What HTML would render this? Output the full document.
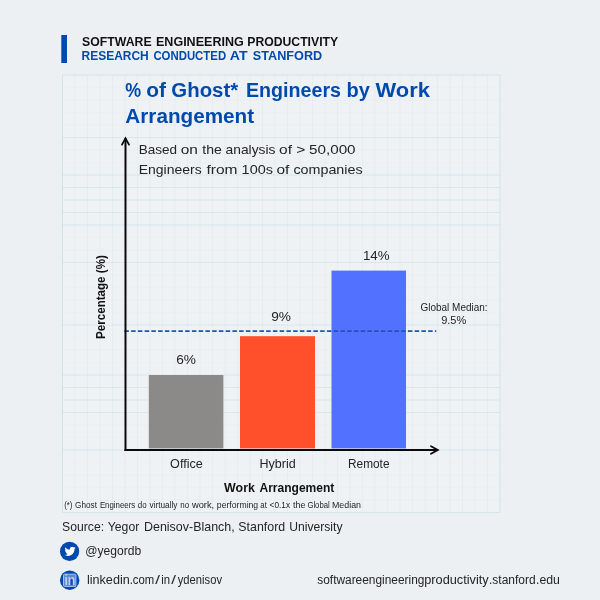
<!DOCTYPE html>
<html lang="en">
<head>
<meta charset="utf-8">
<title>% of Ghost Engineers by Work Arrangement</title>
<style>
html,body{margin:0;padding:0;background:#ecf0f3;}
body{width:600px;height:600px;overflow:hidden;}
svg{display:block;font-family:"Liberation Sans",sans-serif;}
</style>
</head>
<body>
<svg width="600" height="600" viewBox="0 0 600 600">
<rect width="600" height="600" fill="#ecf0f3"/>
<rect x="62.5" y="75" width="437.5" height="437.5" fill="#eef2f5"/>
<g stroke="#c6dce4" stroke-width="1">
<line x1="62.5" y1="75" x2="62.5" y2="512.5" stroke-opacity="0.65"/>
<line x1="75.0" y1="75" x2="75.0" y2="512.5" stroke-opacity="0.19"/>
<line x1="87.5" y1="75" x2="87.5" y2="512.5" stroke-opacity="0.26"/>
<line x1="100.0" y1="75" x2="100.0" y2="512.5" stroke-opacity="0.19"/>
<line x1="112.5" y1="75" x2="112.5" y2="512.5" stroke-opacity="0.26"/>
<line x1="125.0" y1="75" x2="125.0" y2="512.5" stroke-opacity="0.26"/>
<line x1="137.5" y1="75" x2="137.5" y2="512.5" stroke-opacity="0.19"/>
<line x1="150.0" y1="75" x2="150.0" y2="512.5" stroke-opacity="0.19"/>
<line x1="162.5" y1="75" x2="162.5" y2="512.5" stroke-opacity="0.19"/>
<line x1="175.0" y1="75" x2="175.0" y2="512.5" stroke-opacity="0.19"/>
<line x1="187.5" y1="75" x2="187.5" y2="512.5" stroke-opacity="0.19"/>
<line x1="200.0" y1="75" x2="200.0" y2="512.5" stroke-opacity="0.19"/>
<line x1="212.5" y1="75" x2="212.5" y2="512.5" stroke-opacity="0.19"/>
<line x1="225.0" y1="75" x2="225.0" y2="512.5" stroke-opacity="0.19"/>
<line x1="237.5" y1="75" x2="237.5" y2="512.5" stroke-opacity="0.19"/>
<line x1="250.0" y1="75" x2="250.0" y2="512.5" stroke-opacity="0.19"/>
<line x1="262.5" y1="75" x2="262.5" y2="512.5" stroke-opacity="0.19"/>
<line x1="275.0" y1="75" x2="275.0" y2="512.5" stroke-opacity="0.19"/>
<line x1="287.5" y1="75" x2="287.5" y2="512.5" stroke-opacity="0.19"/>
<line x1="300.0" y1="75" x2="300.0" y2="512.5" stroke-opacity="0.19"/>
<line x1="312.5" y1="75" x2="312.5" y2="512.5" stroke-opacity="0.19"/>
<line x1="325.0" y1="75" x2="325.0" y2="512.5" stroke-opacity="0.19"/>
<line x1="337.5" y1="75" x2="337.5" y2="512.5" stroke-opacity="0.19"/>
<line x1="350.0" y1="75" x2="350.0" y2="512.5" stroke-opacity="0.19"/>
<line x1="362.5" y1="75" x2="362.5" y2="512.5" stroke-opacity="0.19"/>
<line x1="375.0" y1="75" x2="375.0" y2="512.5" stroke-opacity="0.19"/>
<line x1="387.5" y1="75" x2="387.5" y2="512.5" stroke-opacity="0.19"/>
<line x1="400.0" y1="75" x2="400.0" y2="512.5" stroke-opacity="0.19"/>
<line x1="412.5" y1="75" x2="412.5" y2="512.5" stroke-opacity="0.19"/>
<line x1="425.0" y1="75" x2="425.0" y2="512.5" stroke-opacity="0.19"/>
<line x1="437.5" y1="75" x2="437.5" y2="512.5" stroke-opacity="0.26"/>
<line x1="450.0" y1="75" x2="450.0" y2="512.5" stroke-opacity="0.19"/>
<line x1="462.5" y1="75" x2="462.5" y2="512.5" stroke-opacity="0.19"/>
<line x1="475.0" y1="75" x2="475.0" y2="512.5" stroke-opacity="0.19"/>
<line x1="487.5" y1="75" x2="487.5" y2="512.5" stroke-opacity="0.19"/>
<line x1="500.0" y1="75" x2="500.0" y2="512.5" stroke-opacity="0.65"/>
<line x1="62.5" y1="75.0" x2="500" y2="75.0" stroke-opacity="0.6"/>
<line x1="62.5" y1="87.5" x2="500" y2="87.5" stroke-opacity="0.08"/>
<line x1="62.5" y1="100.0" x2="500" y2="100.0" stroke-opacity="0.08"/>
<line x1="62.5" y1="112.5" x2="500" y2="112.5" stroke-opacity="0.08"/>
<line x1="62.5" y1="125.0" x2="500" y2="125.0" stroke-opacity="0.08"/>
<line x1="62.5" y1="137.5" x2="500" y2="137.5" stroke-opacity="0.5"/>
<line x1="62.5" y1="150.0" x2="500" y2="150.0" stroke-opacity="0.08"/>
<line x1="62.5" y1="162.5" x2="500" y2="162.5" stroke-opacity="0.08"/>
<line x1="62.5" y1="175.0" x2="500" y2="175.0" stroke-opacity="0.5"/>
<line x1="62.5" y1="187.5" x2="500" y2="187.5" stroke-opacity="0.5"/>
<line x1="62.5" y1="200.0" x2="500" y2="200.0" stroke-opacity="0.5"/>
<line x1="62.5" y1="212.5" x2="500" y2="212.5" stroke-opacity="0.5"/>
<line x1="62.5" y1="225.0" x2="500" y2="225.0" stroke-opacity="0.5"/>
<line x1="62.5" y1="237.5" x2="500" y2="237.5" stroke-opacity="0.08"/>
<line x1="62.5" y1="250.0" x2="500" y2="250.0" stroke-opacity="0.08"/>
<line x1="62.5" y1="262.5" x2="500" y2="262.5" stroke-opacity="0.5"/>
<line x1="62.5" y1="275.0" x2="500" y2="275.0" stroke-opacity="0.08"/>
<line x1="62.5" y1="287.5" x2="500" y2="287.5" stroke-opacity="0.08"/>
<line x1="62.5" y1="300.0" x2="500" y2="300.0" stroke-opacity="0.08"/>
<line x1="62.5" y1="312.5" x2="500" y2="312.5" stroke-opacity="0.08"/>
<line x1="62.5" y1="325.0" x2="500" y2="325.0" stroke-opacity="0.5"/>
<line x1="62.5" y1="337.5" x2="500" y2="337.5" stroke-opacity="0.08"/>
<line x1="62.5" y1="350.0" x2="500" y2="350.0" stroke-opacity="0.08"/>
<line x1="62.5" y1="362.5" x2="500" y2="362.5" stroke-opacity="0.08"/>
<line x1="62.5" y1="375.0" x2="500" y2="375.0" stroke-opacity="0.5"/>
<line x1="62.5" y1="387.5" x2="500" y2="387.5" stroke-opacity="0.5"/>
<line x1="62.5" y1="400.0" x2="500" y2="400.0" stroke-opacity="0.5"/>
<line x1="62.5" y1="412.5" x2="500" y2="412.5" stroke-opacity="0.5"/>
<line x1="62.5" y1="425.0" x2="500" y2="425.0" stroke-opacity="0.08"/>
<line x1="62.5" y1="437.5" x2="500" y2="437.5" stroke-opacity="0.08"/>
<line x1="62.5" y1="450.0" x2="500" y2="450.0" stroke-opacity="0.5"/>
<line x1="62.5" y1="462.5" x2="500" y2="462.5" stroke-opacity="0.08"/>
<line x1="62.5" y1="475.0" x2="500" y2="475.0" stroke-opacity="0.08"/>
<line x1="62.5" y1="487.5" x2="500" y2="487.5" stroke-opacity="0.08"/>
<line x1="62.5" y1="500.0" x2="500" y2="500.0" stroke-opacity="0.08"/>
<line x1="62.5" y1="512.5" x2="500" y2="512.5" stroke-opacity="0.6"/>
</g>
<rect x="61.3" y="35" width="5.7" height="28" fill="#004aad"/>
<!-- bars -->
<rect x="148.8" y="375" width="74.6" height="73.4" fill="#8c8a89"/>
<rect x="240" y="336.2" width="75" height="112.2" fill="#ff4f2b"/>
<rect x="331.5" y="270.6" width="74.5" height="177.8" fill="#5271ff"/>
<!-- median line -->
<line x1="124.4" y1="331.2" x2="436.3" y2="331.2" stroke="#1c55b8" stroke-width="1.8" stroke-dasharray="4.5 2.25"/>
<!-- axes -->
<g stroke="#0a0a0a" stroke-width="2" fill="none">
<line x1="125.5" y1="138" x2="125.5" y2="451"/>
<line x1="124.5" y1="450" x2="438" y2="450"/>
<polyline points="122,144.6 125.5,138.3 129,144.6" stroke-width="1.8" stroke-linecap="round" stroke-linejoin="miter"/>
<polyline points="431,446.3 437.8,450 431,453.7" stroke-width="1.8" stroke-linecap="round" stroke-linejoin="miter"/>
</g>
<text y="45.5" font-size="12.4" font-weight="bold" fill="#111"><tspan x="82.06" textLength="69.52" lengthAdjust="spacingAndGlyphs">SOFTWARE</tspan> <tspan x="155.97" textLength="87.77" lengthAdjust="spacingAndGlyphs">ENGINEERING</tspan> <tspan x="247.24" textLength="90.89" lengthAdjust="spacingAndGlyphs">PRODUCTIVITY</tspan></text>
<text y="59.6" font-size="12.4" font-weight="bold" fill="#004aad"><tspan x="81.50" textLength="67.29" lengthAdjust="spacingAndGlyphs">RESEARCH</tspan> <tspan x="153.39" textLength="72.75" lengthAdjust="spacingAndGlyphs">CONDUCTED</tspan> <tspan x="229.80" textLength="17.79" lengthAdjust="spacingAndGlyphs">AT</tspan> <tspan x="252.80" textLength="69.39" lengthAdjust="spacingAndGlyphs">STANFORD</tspan></text>
<text y="97.1" font-size="20.3" font-weight="bold" fill="#004aad"><tspan x="125.29" textLength="15.88" lengthAdjust="spacingAndGlyphs">%</tspan> <tspan x="146.35" textLength="19.73" lengthAdjust="spacingAndGlyphs">of</tspan> <tspan x="171.36" textLength="66.81" lengthAdjust="spacingAndGlyphs">Ghost*</tspan> <tspan x="245.97" textLength="95.02" lengthAdjust="spacingAndGlyphs">Engineers</tspan> <tspan x="346.55" textLength="23.32" lengthAdjust="spacingAndGlyphs">by</tspan> <tspan x="375.50" textLength="54.36" lengthAdjust="spacingAndGlyphs">Work</tspan></text>
<text y="122.5" font-size="20.3" font-weight="bold" fill="#004aad"><tspan x="125.38" textLength="128.72" lengthAdjust="spacingAndGlyphs">Arrangement</tspan></text>
<text y="153.75" font-size="13.6" font-weight="normal" fill="#242424"><tspan x="138.69" textLength="38.31" lengthAdjust="spacingAndGlyphs">Based</tspan> <tspan x="180.77" textLength="17.20" lengthAdjust="spacingAndGlyphs">on</tspan> <tspan x="202.25" textLength="19.57" lengthAdjust="spacingAndGlyphs">the</tspan> <tspan x="225.57" textLength="49.86" lengthAdjust="spacingAndGlyphs">analysis</tspan> <tspan x="279.02" textLength="12.93" lengthAdjust="spacingAndGlyphs">of</tspan> <tspan x="296.25" textLength="9.05" lengthAdjust="spacingAndGlyphs">&gt;</tspan> <tspan x="309.02" textLength="46.55" lengthAdjust="spacingAndGlyphs">50,000</tspan></text>
<text y="173.75" font-size="13.6" font-weight="normal" fill="#242424"><tspan x="138.66" textLength="63.03" lengthAdjust="spacingAndGlyphs">Engineers</tspan> <tspan x="206.47" textLength="31.01" lengthAdjust="spacingAndGlyphs">from</tspan> <tspan x="241.60" textLength="31.36" lengthAdjust="spacingAndGlyphs">100s</tspan> <tspan x="276.42" textLength="12.93" lengthAdjust="spacingAndGlyphs">of</tspan> <tspan x="293.45" textLength="69.19" lengthAdjust="spacingAndGlyphs">companies</tspan></text>
<text y="364" font-size="12" font-weight="normal" fill="#242424"><tspan x="176.16" textLength="19.75" lengthAdjust="spacingAndGlyphs">6%</tspan></text>
<text y="321.4" font-size="12" font-weight="normal" fill="#242424"><tspan x="271.16" textLength="19.75" lengthAdjust="spacingAndGlyphs">9%</tspan></text>
<text y="259.5" font-size="12" font-weight="normal" fill="#242424"><tspan x="362.97" textLength="26.63" lengthAdjust="spacingAndGlyphs">14%</tspan></text>
<text y="311" font-size="10" font-weight="normal" fill="#242424"><tspan x="420.53" textLength="67.07" lengthAdjust="spacingAndGlyphs">Global Median:</tspan></text>
<text y="324" font-size="10" font-weight="normal" fill="#242424"><tspan x="441.18" textLength="25.15" lengthAdjust="spacingAndGlyphs">9.5%</tspan></text>
<text y="467.7" font-size="12" font-weight="normal" fill="#242424"><tspan x="170.11" textLength="32.60" lengthAdjust="spacingAndGlyphs">Office</tspan></text>
<text y="467.7" font-size="12" font-weight="normal" fill="#242424"><tspan x="259.52" textLength="36.18" lengthAdjust="spacingAndGlyphs">Hybrid</tspan></text>
<text y="467.7" font-size="12" font-weight="normal" fill="#242424"><tspan x="348.08" textLength="41.40" lengthAdjust="spacingAndGlyphs">Remote</tspan></text>
<text y="491.6" font-size="12.4" font-weight="bold" fill="#111"><tspan x="224.10" textLength="30.82" lengthAdjust="spacingAndGlyphs">Work</tspan> <tspan x="259.51" textLength="74.85" lengthAdjust="spacingAndGlyphs">Arrangement</tspan></text>
<text y="508.4" font-size="8.8" font-weight="normal" fill="#242424"><tspan x="64.13" textLength="8.27" lengthAdjust="spacingAndGlyphs">(*)</tspan> <tspan x="75.12" textLength="21.86" lengthAdjust="spacingAndGlyphs">Ghost</tspan> <tspan x="99.89" textLength="35.36" lengthAdjust="spacingAndGlyphs">Engineers</tspan> <tspan x="137.75" textLength="8.82" lengthAdjust="spacingAndGlyphs">do</tspan> <tspan x="149.50" textLength="28.00" lengthAdjust="spacingAndGlyphs">virtually</tspan> <tspan x="180.25" textLength="8.82" lengthAdjust="spacingAndGlyphs">no</tspan> <tspan x="191.95" textLength="22.25" lengthAdjust="spacingAndGlyphs">work,</tspan> <tspan x="216.86" textLength="41.33" lengthAdjust="spacingAndGlyphs">performing</tspan> <tspan x="260.34" textLength="6.46" lengthAdjust="spacingAndGlyphs">at</tspan> <tspan x="269.61" textLength="20.39" lengthAdjust="spacingAndGlyphs">&lt;0.1x</tspan> <tspan x="293.00" textLength="12.36" lengthAdjust="spacingAndGlyphs">the</tspan> <tspan x="307.38" textLength="22.39" lengthAdjust="spacingAndGlyphs">Global</tspan> <tspan x="332.01" textLength="28.99" lengthAdjust="spacingAndGlyphs">Median</tspan></text>
<text y="531.25" font-size="13.5" font-weight="normal" fill="#242424"><tspan x="62.12" textLength="41.98" lengthAdjust="spacingAndGlyphs">Source:</tspan> <tspan x="107.81" textLength="31.50" lengthAdjust="spacingAndGlyphs">Yegor</tspan> <tspan x="144.03" textLength="90.65" lengthAdjust="spacingAndGlyphs">Denisov-Blanch,</tspan> <tspan x="238.36" textLength="46.83" lengthAdjust="spacingAndGlyphs">Stanford</tspan> <tspan x="289.24" textLength="53.26" lengthAdjust="spacingAndGlyphs">University</tspan></text>
<text y="555" font-size="12" font-weight="normal" fill="#242424"><tspan x="85.31" textLength="55.93" lengthAdjust="spacingAndGlyphs">@yegordb</tspan></text>
<text y="583.7" font-size="12.5" font-weight="normal" fill="#242424"><tspan x="86.96" textLength="42.75" lengthAdjust="spacingAndGlyphs">linkedin</tspan><tspan x="129.72" textLength="24.47" lengthAdjust="spacingAndGlyphs">.com</tspan><tspan x="155.30" textLength="4.69" lengthAdjust="spacingAndGlyphs">/</tspan><tspan x="161.19" textLength="8.85" lengthAdjust="spacingAndGlyphs">in</tspan><tspan x="171.38" textLength="4.69" lengthAdjust="spacingAndGlyphs">/</tspan><tspan x="177.75" textLength="44.25" lengthAdjust="spacingAndGlyphs">ydenisov</tspan></text>
<text y="583.75" font-size="12" font-weight="normal" fill="#242424"><tspan x="317.31" textLength="107.10" lengthAdjust="spacingAndGlyphs">softwareengineering</tspan><tspan x="424.20" textLength="64.55" lengthAdjust="spacingAndGlyphs">productivity</tspan><tspan x="489.06" textLength="46.61" lengthAdjust="spacingAndGlyphs">.stanford</tspan><tspan x="536.04" textLength="23.90" lengthAdjust="spacingAndGlyphs">.edu</tspan></text>
<text transform="translate(105.3 338.2) rotate(-90)" x="-0.72" y="0" font-size="12.7" font-weight="bold" fill="#111" textLength="83.74" lengthAdjust="spacingAndGlyphs">Percentage (%)</text>
<!-- twitter -->
<circle cx="69.6" cy="551.4" r="9.6" fill="#004aad"/>
<path d="M23.953 4.57a10 10 0 01-2.825.775 4.958 4.958 0 002.163-2.723c-.951.555-2.005.959-3.127 1.184a4.92 4.92 0 00-8.384 4.482C7.69 8.095 4.067 6.13 1.64 3.162a4.822 4.822 0 00-.666 2.475c0 1.71.87 3.213 2.188 4.096a4.904 4.904 0 01-2.228-.616v.06a4.923 4.923 0 003.946 4.827 4.996 4.996 0 01-2.212.085 4.936 4.936 0 004.604 3.417 9.867 9.867 0 01-6.102 2.105c-.39 0-.779-.023-1.17-.067a13.995 13.995 0 007.557 2.209c9.053 0 13.998-7.496 13.998-13.985 0-.21 0-.42-.015-.63A9.935 9.935 0 0024 4.59z" fill="#fff" transform="translate(64.4 545.7) scale(0.468)"/>
<!-- linkedin -->
<circle cx="69.7" cy="580.2" r="9.7" fill="#004aad"/>
<rect x="63.5" y="574.2" width="12.4" height="12.2" rx="1" fill="#5d88d6" stroke="#a9c2ec" stroke-width="1"/>
<rect x="69.6" y="577.6" width="3.4" height="7.4" fill="#0e4db1"/>
<text x="64.4" y="585" font-size="14" font-weight="bold" fill="#b9cef1" textLength="11" lengthAdjust="spacingAndGlyphs">in</text>
</svg>
</body>
</html>
